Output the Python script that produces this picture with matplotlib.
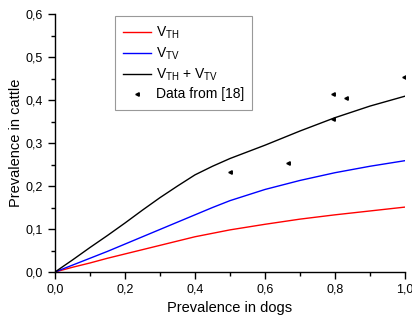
import numpy as np
import matplotlib
matplotlib.use("Agg")
import matplotlib.pyplot as plt
from matplotlib.ticker import MultipleLocator, FuncFormatter

plt.rcParams['font.family'] = ['Liberation Sans', 'DejaVu Sans']

# model curves
dogs = [0.0, 0.05, 0.1, 0.15, 0.2, 0.25, 0.3, 0.35, 0.4, 0.45, 0.5,
        0.6, 0.7, 0.8, 0.9, 1.0]
v_th = [0.0, 0.011, 0.021, 0.032, 0.042, 0.052, 0.062, 0.072, 0.082, 0.090,
        0.098, 0.111, 0.123, 0.133, 0.142, 0.151]
v_tv = [0.0, 0.016, 0.032, 0.048, 0.065, 0.082, 0.099, 0.116, 0.133, 0.150,
        0.166, 0.192, 0.213, 0.231, 0.246, 0.259]
v_sum = [0.0, 0.028, 0.057, 0.085, 0.114, 0.144, 0.173, 0.200, 0.226, 0.246,
         0.264, 0.295, 0.328, 0.359, 0.386, 0.409]

# observed data
data_x = [0.50, 0.667, 0.795, 0.831, 0.795, 0.998]
data_y = [0.233, 0.253, 0.413, 0.404, 0.355, 0.453]

fig = plt.figure(figsize=(4.12, 3.2), dpi=100)
ax = fig.add_axes([0.1335, 0.15, 0.8495, 0.806])

ax.plot(dogs, v_th, color='red', lw=1.0, label=r'V$_{\mathregular{TH}}$')
ax.plot(dogs, v_tv, color='blue', lw=1.0, label=r'V$_{\mathregular{TV}}$')
ax.plot(dogs, v_sum, color='black', lw=1.0,
        label=r'V$_{\mathregular{TH}}$ + V$_{\mathregular{TV}}$')
ax.plot(data_x, data_y, ls='none', marker='<', ms=2.5, color='black',
        label='Data from [18]')

ax.set_xlim(0, 1.0)
ax.set_ylim(0, 0.6)
ax.xaxis.set_major_locator(MultipleLocator(0.2))
ax.xaxis.set_minor_locator(MultipleLocator(0.1))
ax.yaxis.set_major_locator(MultipleLocator(0.1))
ax.yaxis.set_minor_locator(MultipleLocator(0.05))
comma = FuncFormatter(lambda v, p: f'{v:.1f}'.replace('.', ','))
ax.xaxis.set_major_formatter(comma)
ax.yaxis.set_major_formatter(comma)

for s in ['top', 'right']:
    ax.spines[s].set_visible(False)
for s in ['left', 'bottom']:
    ax.spines[s].set_linewidth(1.0)

ax.tick_params(which='major', direction='out', length=5, width=1, labelsize=9)
ax.tick_params(which='minor', direction='out', length=3, width=1)

ax.set_xlabel('Prevalence in dogs', fontsize=10.5, labelpad=4)
ax.set_ylabel('Prevalence in cattle', fontsize=10.5, labelpad=2)

leg = ax.legend(loc='upper left', bbox_to_anchor=(0.171, 0.992), fontsize=10,
                frameon=True, fancybox=False, edgecolor='gray',
                handlelength=2.0, borderpad=0.6, labelspacing=0.33,
                handletextpad=0.35, borderaxespad=0)
leg.get_frame().set_linewidth(0.8)

fig.savefig('out.png', dpi=100)
